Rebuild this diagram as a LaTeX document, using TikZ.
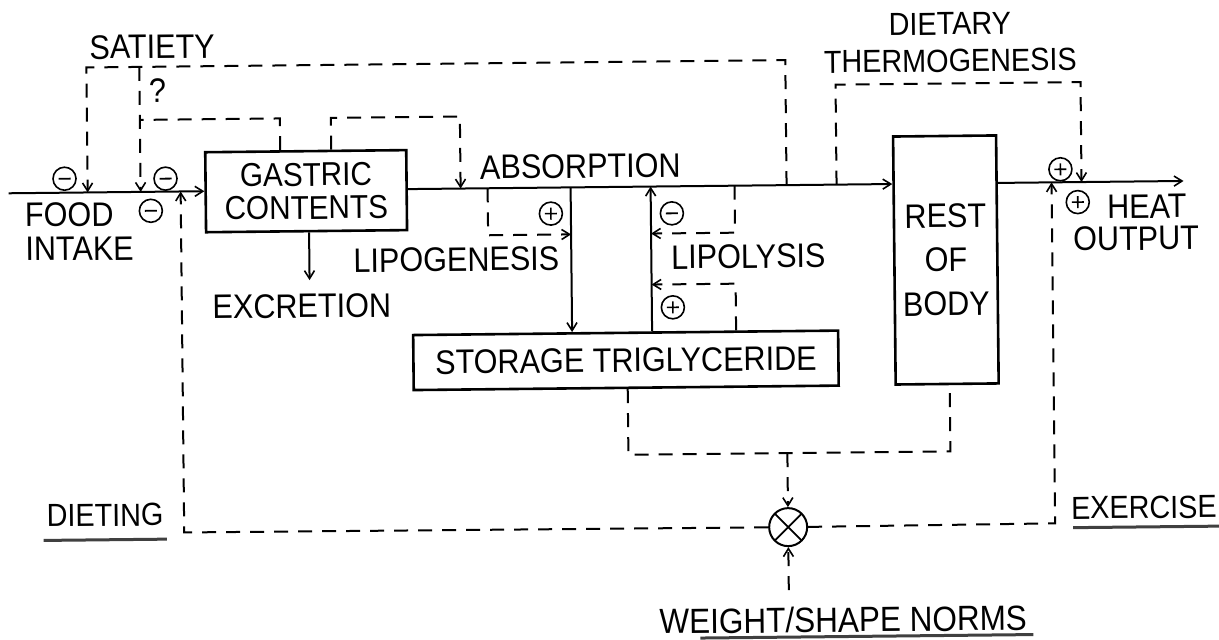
\documentclass[tikz,border=0pt]{standalone}
\usepackage{fontspec}
\setmainfont{Liberation Sans}[FakeStretch=0.9]
\usetikzlibrary{arrows.meta}
\begin{document}
\tikzset{
  every node/.style={font=\fontsize{34}{36}\selectfont, inner sep=0pt},
  box/.style={draw, line width=2.6pt, rectangle, align=center},
  ln/.style={line width=2pt},
  dsh/.style={line width=2pt, dash pattern=on 14pt off 10pt},
  arr/.style={-{Straight Barb[length=8pt,width=10pt,line width=1.6pt]}},
  uline/.style={line width=3pt, black!75},
  sgnbase/.style={circle, draw, line width=1.6pt, minimum size=23pt, inner sep=0pt},
  sgnminus/.style={sgnbase, path picture={\draw[line width=1.8pt]
      ([xshift=-6pt]path picture bounding box.center) -- ([xshift=6pt]path picture bounding box.center);}},
  sgnplus/.style={sgnbase, path picture={\draw[line width=1.6pt]
      ([xshift=-6pt]path picture bounding box.center) -- ([xshift=6pt]path picture bounding box.center)
      ([yshift=-6pt]path picture bounding box.center) -- ([yshift=6pt]path picture bounding box.center);}},
  cross/.style={circle, draw, line width=2pt, minimum size=38pt, inner sep=0pt,
    path picture={\draw[line width=1.8pt]
      (path picture bounding box.north west) -- (path picture bounding box.south east)
      (path picture bounding box.north east) -- (path picture bounding box.south west);}},
}
\begin{tikzpicture}[x=1pt,y=-1pt]
\useasboundingbox (0,0) rectangle (1219,640);
\fill[white] (0,0) rectangle (1219,640);
\begin{scope}[rotate around={0.6:(609,320)}, transform shape]
% boxes
\node[box, minimum width=201pt, minimum height=80pt, font=\fontsize{33}{33}\selectfont] (gastric) at (307.5,188) {GASTRIC\\CONTENTS};
\node[box, minimum width=103pt, minimum height=248pt, font=\fontsize{34}{44}\selectfont] (rest) at (946.5,263.5) {REST\\OF\\BODY};
\node[box, minimum width=425pt, minimum height=55pt] (storage) at (625.5,360.5) {STORAGE TRIGLYCERIDE};
\node[cross] (cmp) at (786,529) {};

% labels
\node (satiety) at (155,42) {SATIETY};
\node (q) at (160,86) {?};
\node[align=left, anchor=west, font=\fontsize{34}{34}\selectfont] (food) at (26,226) {FOOD\\INTAKE};
\node (absorption) at (582,166) {ABSORPTION};
\node (lipogenesis) at (457,258) {LIPOGENESIS};
\node (lipolysis) at (749,258) {LIPOLYSIS};
\node (excretion) at (302,303) {EXCRETION};
\node[align=center, font=\fontsize{32}{37}\selectfont] (dtherm) at (953,46) {DIETARY\\THERMOGENESIS};
\node (heat) at (1148,212) {HEAT};
\node (output) at (1137,244) {OUTPUT};
\node[font=\fontsize{32}{34}\selectfont] (dieting) at (103,510) {DIETING};
\node[font=\fontsize{32}{34}\selectfont] (exercise) at (1142,513) {EXERCISE};
\node[font=\fontsize{35}{36}\selectfont] (norms) at (840,622) {WEIGHT/SHAPE NORMS};

% signs
\node[sgnminus] (m1) at (66,173) {};
\node[sgnminus] (m2) at (167,174) {};
\node[sgnminus] (m3) at (152,206) {};
\node[sgnplus]  (p1) at (552,213) {};
\node[sgnminus] (m4) at (673,214) {};
\node[sgnplus]  (p2) at (673,308) {};
\node[sgnplus]  (p3) at (1062,174) {};
\node[sgnplus]  (p4) at (1079,207) {};

% coordinates on the main flow
\coordinate (start) at (10,187);
\coordinate (heatend) at (1185,187);
\coordinate (s1) at (89,187);
\coordinate (s2) at (142,187);
\coordinate (dietin) at (182,187);
\coordinate (abs) at (462,187);
\coordinate (lgs) at (489,187);
\coordinate (lg) at (572,187);
\coordinate (ll) at (652,187);
\coordinate (lls) at (736,187);
\coordinate (sat) at (788,187);
\coordinate (dt) at (838,187);
\coordinate (exin) at (1053,187);
\coordinate (dtin) at (1083,187);
\coordinate (excr) at (310,277);
\coordinate (nrm) at (786,592);

% solid flows
\draw[ln,arr] (start) -- (start -| gastric.west);
\draw[ln,arr] (gastric.east |- start) -- (rest.west |- start);
\draw[ln,arr] (rest.east |- start) -- (heatend);
\draw[ln,arr] (excr |- gastric.south) -- (excr);
\draw[ln,arr] (lg) -- (lg |- storage.north);
\draw[ln,arr] (ll |- storage.north) -- (ll);

% satiety feedback
\draw[dsh,arr] (sat) -- (788,62) -- (89,62) -- (s1);
\draw[dsh,arr] (142,62) -- (s2);
\draw[dsh] (282,0 |- gastric.north) -- (282,115) -- (142,115);
\draw[dsh,arr] (333,0 |- gastric.north) -- (333,115) -- (462,115) -- (abs);

% lipogenesis / lipolysis control
\draw[dsh,arr] (lgs) -- (489,234) -- (572,234);
\draw[dsh,arr] (lls) -- (736,234) -- (652,234);
\draw[dsh,arr] (736,0 |- storage.north) -- (736,285) -- (652,285);

% dietary thermogenesis
\draw[dsh,arr] (dt) -- (838,87) -- (1083,87) -- (dtin);

% weight comparison loop
\draw[dsh] (627,0 |- storage.south) -- (627,455) -- (949,455) -- (949,0 |- rest.south);
\draw[dsh,arr] (786,455) -- (cmp.north);
\draw[dsh,arr] (nrm) -- (cmp.south);
\draw[dsh,arr] (cmp.west) -- (182,528) -- (dietin);
\draw[dsh,arr] (cmp.east) -- (1053,528) -- (exin);

% underlines
\draw[uline] ([xshift=-3pt,yshift=-13pt]dieting.south west) -- ([xshift=3pt,yshift=-13pt]dieting.south east);
\draw[uline] ([xshift=2pt,yshift=-8pt]exercise.south west) -- ([xshift=6pt,yshift=-8pt]exercise.south east);
\draw[uline] (697,639) -- (1030,639);
\end{scope}
\end{tikzpicture}
\end{document}
